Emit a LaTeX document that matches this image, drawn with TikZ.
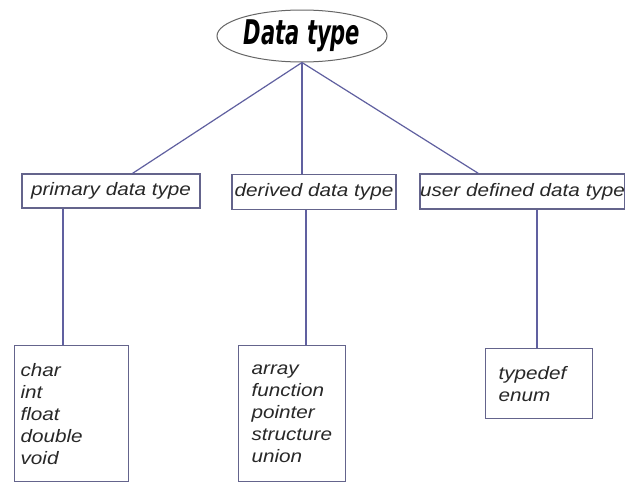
\documentclass[tikz,border=0pt]{standalone}
\usepackage{fontspec}
\setmainfont{Liberation Sans}
\newfontfamily\titlefont{DejaVu Sans}[FakeStretch=0.62]
\newfontfamily\boxfont{Liberation Sans}[FakeStretch=1.15]
\usetikzlibrary{shapes.geometric,calc}
\definecolor{linkblue}{RGB}{96,96,160}
\definecolor{framegray}{RGB}{100,100,140}
\definecolor{inkgray}{RGB}{40,40,40}
\tikzset{
  rootnode/.style={ellipse, draw=gray!80!black, line width=1pt, minimum width=170pt, minimum height=52pt, inner sep=0pt, font=\titlefont\bfseries\itshape\fontsize{34}{34}\selectfont},
  kindbox/.style={draw=framegray, line width=1.2pt, inner sep=0pt, text=inkgray, font=\boxfont\itshape\fontsize{18}{22}\selectfont},
  listbox/.style={kindbox, align=left, anchor=north west},
  link/.style={draw=linkblue, line width=1.2pt},
}
\begin{document}
\begin{tikzpicture}[x=1pt,y=-1pt]
    \fill[white] (0,0) rectangle (625,482);
    \useasboundingbox (0,0) rectangle (625,482);
    \node[rootnode] (root) at (302,36) {Data type};
    \node[kindbox, minimum width=178pt, minimum height=34pt] (prim) at (111,191) {primary data type};
    \node[kindbox, minimum width=164pt, minimum height=35pt] (deriv) at (314,192) {derived data type};
    \node[kindbox, minimum width=199pt, minimum height=35pt] (user) at (522.5,191.5) {user defined data type};
    \node[listbox, inner xsep=6pt, text width=102pt, minimum height=136pt] (basic) at (14,345) {char\\int\\float\\double\\void};
    \node[listbox, inner xsep=13pt, text width=81pt, minimum height=136pt] (compound) at (238,345) {array\\function\\pointer\\structure\\union};
    \node[listbox, inner xsep=13pt, text width=81pt, minimum height=70pt] (custom) at (485,348) {typedef\\enum};
    % top links
    \draw[link] (root.south) -- ($(prim.north west)!0.62!(prim.north east)$);
    \draw[link] (root.south) -- (root.south |- deriv.north);
    \draw[link] (root.south) -- ($(user.north west)!0.286!(user.north east)$);
    % drops to the lists
    \coordinate (pdrop) at (63,0);
    \coordinate (ddrop) at (306,0);
    \coordinate (udrop) at (537,0);
    \draw[link] (prim.south -| pdrop) -- (basic.north -| pdrop);
    \draw[link] (deriv.south -| ddrop) -- (compound.north -| ddrop);
    \draw[link] (user.south -| udrop) -- (custom.north -| udrop);
\end{tikzpicture}
\end{document}
